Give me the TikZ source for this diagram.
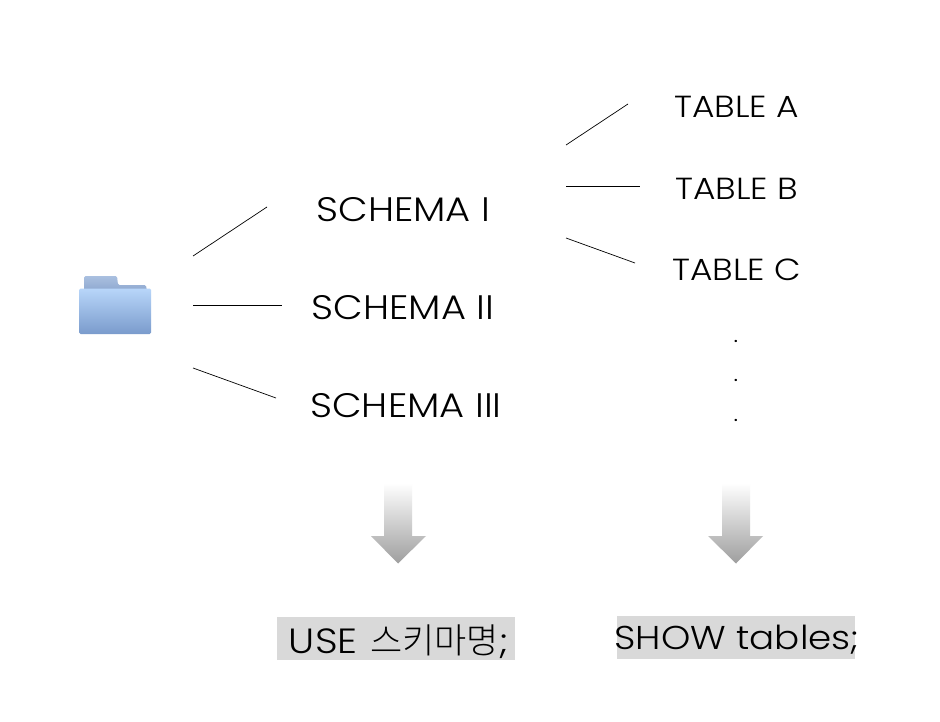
\documentclass[tikz,border=0pt]{standalone}
\usepackage{fontspec}
\setmainfont{Poppins}[UprightFont=* Light,FakeStretch=1.13]
\newfontfamily\cjk{Noto Sans CJK KR}[UprightFont=* Light]
\definecolor{hl}{gray}{0.85}
\tikzset{
  lbl/.style={inner sep=0pt,text=black,anchor=center},
  schemalbl/.style={lbl,font=\fontsize{34}{36}\selectfont},
  tablelbl/.style={lbl,font=\fontsize{30.5}{32}\selectfont},
  dotlbl/.style={lbl,font=\fontsize{22}{24}\selectfont},
  cmdlbl/.style={lbl,font=\fontsize{33}{36}\selectfont},
  conn/.style={draw=black,line width=0.7pt},
  bigarrow/.style={top color=white,bottom color=black!38,shading angle=0,draw=none},
}
\begin{document}
\begin{tikzpicture}[x=1pt,y=-1pt]
\useasboundingbox (0,0) rectangle (940,722);
\fill[white] (0,0) rectangle (940,722);
% folder
\shade[top color={rgb,255:red,170;green,192;blue,224},bottom color={rgb,255:red,140;green,166;blue,206},rounded corners=1.5pt]
  (84,290) -- (84,276) -- (117,276) -- (118,285) -- (146,285) -- (147,292) -- cycle;
\shade[top color={rgb,255:red,184;green,214;blue,250},bottom color={rgb,255:red,122;green,155;blue,204},rounded corners=1.5pt]
  (79,288.5) rectangle (151,334);
\coordinate (f1) at (193,256); \coordinate (f2) at (193,305); \coordinate (f3) at (193,368);
\coordinate (s1e) at (267,207); \coordinate (s2e) at (282,305); \coordinate (s3e) at (276,398);
\coordinate (t1a) at (566,145); \coordinate (t2a) at (566,186); \coordinate (t3a) at (566,238);
\coordinate (t1e) at (628,104); \coordinate (t2e) at (640,186); \coordinate (t3e) at (635,263);
\draw[conn] (f1) -- (s1e);
\draw[conn] (f2) -- (s2e);
\draw[conn] (f3) -- (s3e);
\draw[conn] (t1a) -- (t1e);
\draw[conn] (t2a) -- (t2e);
\draw[conn] (t3a) -- (t3e);
\node[schemalbl] (s1) at (403.5,209.5) {SCHEMA I};
\node[schemalbl] (s2) at (403,307.5) {SCHEMA II};
\node[schemalbl] (s3) at (406,405.5) {SCHEMA III};
\node[tablelbl] (ta) at (736.5,106.5) {TABLE A};
\node[tablelbl] (tb) at (736.5,188.5) {TABLE B};
\node[tablelbl] (tc) at (736.5,269.5) {TABLE C};
\node[dotlbl] (d1) at (736,341) {.};
\node[dotlbl] (d2) at (736,380) {.};
\node[dotlbl] (d3) at (736,420) {.};
\shade[bigarrow] (384,483) -- (412,483) -- (412,536) -- (426,536) -- (398,563.5) -- (371,536) -- (384,536) -- cycle;
\shade[bigarrow] (722,483) -- (750,483) -- (750,536) -- (763,536) -- (736,563.5) -- (708,536) -- (722,536) -- cycle;
\fill[hl] (276.5,617) rectangle (515,660);
\fill[hl] (616.5,616) rectangle (855,659);
\node[cmdlbl,font=\fontsize{35}{36}\selectfont] (c1) at (398.5,641.5) {USE\hspace{2pt} {\cjk\fontsize{35}{36}\selectfont 스키마명};};
\node[cmdlbl] (c2) at (737,640) {SHOW tables;};
\end{tikzpicture}
\end{document}
